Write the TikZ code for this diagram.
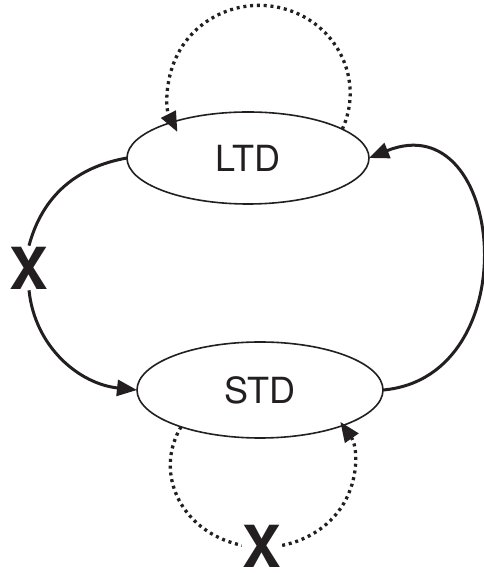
\documentclass[tikz,border=0pt]{standalone}
\usepackage{fontspec}
\setmainfont{TeX Gyre Heros}
\usetikzlibrary{shapes.geometric,arrows.meta}
\definecolor{ink}{RGB}{35,31,32}
\begin{document}
\begin{tikzpicture}[x=1pt,y=1pt,
  state/.style={draw=ink,ellipse,line width=1.6pt,inner sep=0pt,outer sep=0pt,
    font=\fontsize{36}{40}\selectfont,text=ink},
  cross/.style={font=\bfseries\fontsize{58}{60}\selectfont,text=ink,fill=white,inner sep=1pt},
  solidlink/.style={draw=ink,line width=3pt},
  dotlink/.style={draw=ink,line width=3.3pt,dash pattern=on 3pt off 3.8pt},
  tip/.style={-{Triangle[length=20pt,width=16pt]}}]
\useasboundingbox (0,0) rectangle (483,573);

% the two states
\node[state,minimum width=242pt,minimum height=92pt] (ltd) at (248,415) {LTD};
\node[state,minimum width=246pt,minimum height=96pt] (std) at (260,183) {STD};

% blocked pathway on the left
\node[cross] (xl) at (29,305) {X};
\draw[solidlink] (ltd.west) to[out=190,in=75] (xl.north);
\draw[solidlink,tip] (xl.south) to[out=-84,in=174] (std.west);

% pathway on the right, STD back to LTD
\draw[solidlink,tip] (std.east) to[out=5,in=22,looseness=1.62] (ltd.east);

% self loop above LTD
\draw[dotlink,tip] (ltd.17) arc[start angle=-24,end angle=206,x radius=91,y radius=88];

% blocked self loop below STD
\draw[dotlink,tip] (std.205) arc[start angle=152,end angle=392,x radius=92,y radius=82];
\node[cross] (xb) at (262,27) {X};
\end{tikzpicture}
\end{document}
